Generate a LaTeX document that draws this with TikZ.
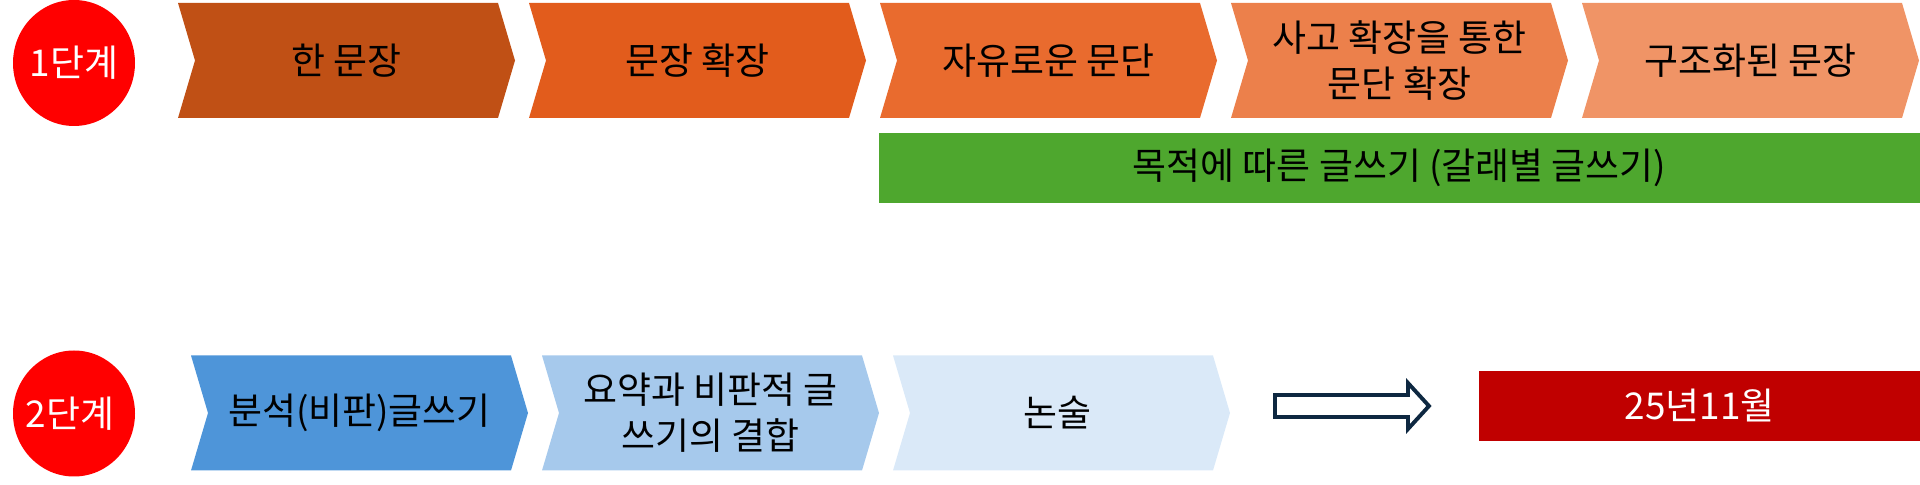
\documentclass[tikz,border=0pt]{standalone}
\usepackage{fontspec}
\setmainfont{Noto Sans CJK KR}
\usepackage{xcolor}

\definecolor{oneA}{HTML}{C05015}
\definecolor{oneB}{HTML}{E25C1C}
\definecolor{oneC}{HTML}{E96B2E}
\definecolor{oneD}{HTML}{EC804B}
\definecolor{oneE}{HTML}{F09466}
\definecolor{twoA}{HTML}{4E95D9}
\definecolor{twoB}{HTML}{A6C9EC}
\definecolor{twoC}{HTML}{DAE9F8}
\definecolor{genreGreen}{HTML}{4EA72E}
\definecolor{dateRed}{HTML}{C00000}
\definecolor{arrowNavy}{HTML}{0E2841}

\tikzset{
	label text/.style={font=\fontsize{10.5}{13}\selectfont, align=center, inner sep=0pt}
}

\begin{document}
\begin{tikzpicture}[x=0.01cm, y=-0.01cm]
	\useasboundingbox (0,0) rectangle (1920,485);

	\foreach \y/\name/\txt in {
		63/stageOne/1단계,
		413.5/stageTwo/2단계
	}
	{
		\fill [red] (74,\y) ellipse [x radius=61, y radius=63];
		\node [label text, text=white] (\name) at (74,\y) {\txt};
	}

	\foreach \x/\y/\col/\name/\txt in {
		178/60.5/oneA/sentence/{한 문장},
		529/60.5/oneB/expand/{문장 확장},
		880/60.5/oneC/freePara/{자유로운 문단},
		1231/60.5/oneD/thinkPara/{사고 확장을 통한\\문단 확장},
		1582/60.5/oneE/structured/{구조화된 문장},
		191/413/twoA/analysis/{분석(비판)글쓰기},
		542/413/twoB/summary/{요약과 비판적 글\\쓰기의 결합},
		893/413/twoC/essay/{논술}
	}
	{
		\fill [\col] (\x,\y-57.5) -- (\x+320,\y-57.5) -- (\x+337,\y) -- (\x+320,\y+57.5) -- (\x,\y+57.5) -- (\x+17,\y) -- cycle;
		\node [label text] (\name) at (\x+168.5,\y) {\txt};
	}

	\fill [genreGreen] (879,133) rectangle (1920,203);
	\node [label text] (genre) at (1399.5,168) {목적에 따른 글쓰기 (갈래별 글쓰기)};

	\draw [arrowNavy, line width=1.1pt] (1275,395) -- (1408,395) -- (1408,383) -- (1429,406) -- (1408,429) -- (1408,417) -- (1275,417) -- cycle;

	\fill [dateRed] (1479,371) rectangle (1920,441);
	\node [label text, text=white] (date) at (1699.5,406) {25년11월};
\end{tikzpicture}
\end{document}
